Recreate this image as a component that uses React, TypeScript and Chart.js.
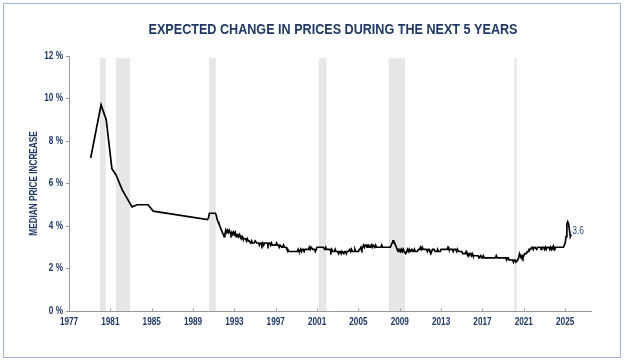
import React, { useEffect, useRef } from 'react';
import { Chart, registerables } from 'chart.js';

Chart.register(...registerables);

// ---------- DATA ----------
const chartTitle = 'EXPECTED CHANGE IN PRICES DURING THE NEXT 5 YEARS';
const yAxisTitle = 'MEDIAN PRICE INCREASE';
const xTickYears = [1977, 1981, 1985, 1989, 1993, 1997, 2001, 2005, 2009, 2013, 2017, 2021, 2025];
const yTickValues = [0, 2, 4, 6, 8, 10, 12];

// Sparse early survey readings (decimal year, %)
const earlyYears = [1979.1, 1980.1, 1980.6, 1981.15, 1981.55, 1982.15, 1983.1, 1983.6, 1984.65, 1985.15, 1990.4];
const earlyValues = [7.2, 9.7, 9.0, 6.7, 6.4, 5.7, 4.9, 5.0, 5.0, 4.7, 4.3];

// Monthly readings starting July 1990
const monthlyStartYear = 1990.5;
const values1990s = [
  4.4, 4.6, 4.6, 4.6, 4.6, 4.6,
  4.6, 4.6, 4.6, 4.5, 4.3, 4.2, 4.1, 4.0, 3.9, 3.8, 3.7, 3.6,
  3.5, 3.6, 3.8, 3.7, 3.8, 3.7, 3.8, 3.7, 3.6, 3.7, 3.6, 3.7,
  3.6, 3.7, 3.5, 3.6, 3.6, 3.5, 3.6, 3.5, 3.4, 3.5, 3.4, 3.4,
  3.4, 3.4, 3.3, 3.4, 3.3, 3.3, 3.3, 3.2, 3.3, 3.2, 3.2, 3.2,
  3.3, 3.3, 3.2, 3.2, 3.2, 3.1, 3.2, 3.2, 3.1, 3.2, 3.1, 3.2,
  3.2, 3.2, 3.2, 3.1, 3.2, 3.2, 3.1, 3.2, 3.1, 3.1, 3.1, 3.1,
  3.1, 3.2, 3.1, 3.1, 3.0, 3.1, 3.1, 3.0, 3.0, 3.1, 3.0, 3.0,
  3.0, 2.9, 2.9, 2.8, 2.8, 2.8, 2.8, 2.8, 2.8, 2.8, 2.8, 2.8,
  2.8, 2.8, 2.9, 2.8, 2.8, 2.9, 2.8, 2.9, 2.9, 2.8, 2.9, 2.9,
];
const values2000s = [
  2.9, 2.9, 2.9, 3.0, 2.9, 3.0, 3.0, 2.9, 2.9, 2.9, 2.8, 2.9,
  3.0, 3.0, 3.0, 3.0, 3.0, 3.0, 3.0, 3.0, 3.0, 2.9, 3.0, 2.9,
  2.9, 2.9, 2.9, 2.9, 2.8, 2.9, 2.8, 2.8, 2.8, 2.9, 2.8, 2.8,
  2.8, 2.7, 2.8, 2.8, 2.7, 2.8, 2.8, 2.7, 2.8, 2.8, 2.7, 2.8,
  2.8, 2.8, 2.9, 2.8, 2.9, 2.8, 2.8, 2.8, 2.9, 2.8, 2.8, 2.8,
  2.8, 2.9, 2.9, 3.0, 2.9, 3.0, 3.1, 3.0, 3.1, 3.1, 3.0, 3.1,
  3.1, 3.0, 3.0, 3.1, 3.0, 3.1, 3.1, 3.0, 3.1, 3.0, 3.0, 3.0,
  3.0, 3.0, 3.0, 3.1, 3.0, 3.0, 3.0, 3.0, 3.0, 3.0, 3.0, 3.0,
  3.0, 3.0, 3.1, 3.2, 3.3, 3.3, 3.2, 3.1, 3.0, 2.9, 2.8, 2.9,
  2.9, 2.8, 2.9, 2.8, 2.9, 2.8, 2.8, 2.7, 2.8, 2.9, 2.8, 2.9,
];
const values2010s = [
  2.8, 2.8, 2.9, 2.8, 2.8, 2.9, 2.8, 2.8, 2.8, 2.8, 2.9, 2.9,
  3.0, 2.9, 3.0, 2.9, 2.9, 2.9, 2.9, 2.9, 2.8, 2.9, 2.9, 2.8,
  2.7, 2.8, 2.9, 2.9, 2.9, 2.8, 2.8, 2.8, 2.9, 2.8, 2.8, 2.8,
  2.9, 2.9, 2.9, 2.9, 2.9, 2.9, 2.9, 2.9, 3.0, 2.9, 2.9, 2.9,
  2.9, 2.9, 2.8, 2.9, 2.9, 2.9, 2.8, 2.9, 2.8, 2.8, 2.8, 2.8,
  2.8, 2.7, 2.7, 2.7, 2.7, 2.8, 2.7, 2.7, 2.6, 2.7, 2.7, 2.6,
  2.7, 2.6, 2.6, 2.6, 2.6, 2.6, 2.6, 2.6, 2.5, 2.5, 2.6, 2.5,
  2.5, 2.6, 2.5, 2.5, 2.5, 2.5, 2.5, 2.5, 2.5, 2.5, 2.5, 2.5,
  2.5, 2.5, 2.5, 2.5, 2.6, 2.5, 2.5, 2.5, 2.5, 2.5, 2.5, 2.5,
  2.5, 2.5, 2.5, 2.5, 2.4, 2.5, 2.5, 2.4, 2.4, 2.4, 2.4, 2.4,
];
const values2020s = [
  2.3, 2.4, 2.4, 2.3, 2.3, 2.4, 2.5, 2.7, 2.6, 2.5, 2.6, 2.5,
  2.6, 2.7, 2.7, 2.7, 2.8, 2.8, 2.9, 2.9, 2.9, 3.0, 3.0, 2.9,
  3.0, 3.0, 3.0, 2.9, 3.0, 3.0, 3.0, 3.0, 2.9, 3.0, 3.0, 3.0,
  2.9, 3.0, 2.9, 3.0, 3.0, 3.0, 2.9, 3.0, 2.9, 3.0, 2.9, 3.0,
  2.9, 3.0, 3.0, 3.0, 3.0, 3.0, 3.0, 3.0, 3.0, 3.0, 3.0, 3.1,
  3.2, 3.5, 4.1, 4.2, 4.1, 3.8, 3.5, 3.6,
];

// Recession bands (decimal years)
const recessionStarts = [1980.0, 1981.54, 1990.55, 2001.17, 2007.92, 2020.08];
const recessionEnds = [1980.55, 1982.9, 1991.2, 2001.9, 2009.5, 2020.3];

// ---------- STYLE ----------
const NAVY = '#1f3864';
const FONT = "'Liberation Sans', Arial, sans-serif";

function condensedText(ctx: CanvasRenderingContext2D, text: string, x: number, y: number, sx: number) {
  ctx.save();
  ctx.translate(x, y);
  ctx.scale(sx, 1);
  ctx.fillText(text, 0, 0);
  ctx.restore();
}

export default function App() {
  const ref = useRef<HTMLCanvasElement | null>(null);

  useEffect(() => {
    const canvas = ref.current;
    if (!canvas) return;

    const monthly = [...values1990s, ...values2000s, ...values2010s, ...values2020s];
    const points: { x: number; y: number }[] = [];
    earlyYears.forEach((yr, i) => points.push({ x: yr, y: earlyValues[i] }));
    monthly.forEach((v, i) => points.push({ x: monthlyStartYear + i / 12, y: v }));
    const lastValue = monthly[monthly.length - 1];

    const decorPlugin = {
      id: 'decor',
      beforeDraw(chart: any) {
        const { ctx } = chart;
        ctx.save();
        ctx.fillStyle = '#ffffff';
        ctx.fillRect(0, 0, chart.width, chart.height);
        ctx.strokeStyle = '#9fb4d4';
        ctx.lineWidth = 1;
        ctx.strokeRect(3.5, 3.5, 617, 354);
        // title
        ctx.fillStyle = NAVY;
        ctx.font = `bold 14px ${FONT}`;
        ctx.textAlign = 'center';
        ctx.textBaseline = 'middle';
        condensedText(ctx, chartTitle, 333, 30, 0.9);
        // y axis title
        const ca = chart.chartArea;
        ctx.translate(34, (ca.top + ca.bottom) / 2);
        ctx.rotate(-Math.PI / 2);
        ctx.font = `bold 10px ${FONT}`;
        condensedText(ctx, yAxisTitle, 0, 0, 0.82);
        ctx.restore();
      },
      beforeDatasetsDraw(chart: any) {
        const { ctx, scales } = chart;
        const xs = scales.x;
        const ys = scales.y;
        ctx.save();
        ctx.fillStyle = '#e6e6e6';
        const top = ys.getPixelForValue(11.9);
        const bottom = ys.getPixelForValue(0);
        recessionStarts.forEach((s, i) => {
          const x1 = xs.getPixelForValue(s);
          const x2 = xs.getPixelForValue(recessionEnds[i]);
          ctx.fillRect(x1, top, x2 - x1, bottom - top);
        });
        ctx.restore();
      },
      afterDraw(chart: any) {
        const { ctx, scales } = chart;
        const xs = scales.x;
        const ys = scales.y;
        ctx.save();
        // upward x ticks
        ctx.strokeStyle = '#999999';
        ctx.lineWidth = 1;
        const y0 = Math.round(ys.getPixelForValue(0)) + 0.5;
        xTickYears.forEach((yr) => {
          const x = Math.round(xs.getPixelForValue(yr)) + 0.5;
          ctx.beginPath();
          ctx.moveTo(x, y0);
          ctx.lineTo(x, y0 - 3);
          ctx.stroke();
        });
        // tick labels
        ctx.fillStyle = NAVY;
        ctx.font = `bold 10px ${FONT}`;
        ctx.textBaseline = 'middle';
        ctx.textAlign = 'center';
        xTickYears.forEach((yr) => {
          condensedText(ctx, String(yr), xs.getPixelForValue(yr), y0 + 11, 0.82);
        });
        ctx.textAlign = 'right';
        yTickValues.forEach((v) => {
          condensedText(ctx, `${v} %`, xs.left - 6, ys.getPixelForValue(v), 0.82);
        });
        // last value label
        const meta = chart.getDatasetMeta(0);
        const last = meta.data[meta.data.length - 1];
        ctx.fillStyle = '#2b4a8a';
        ctx.font = `10px ${FONT}`;
        ctx.textAlign = 'left';
        condensedText(ctx, String(lastValue), last.x + 1, last.y - 3, 0.85);
        ctx.restore();
      },
    };

    const chart = new Chart(canvas, {
      type: 'line',
      data: {
        datasets: [
          {
            data: points,
            borderColor: '#000000',
            borderWidth: 1.7,
            pointRadius: 0,
            tension: 0,
            fill: false,
          },
        ],
      },
      options: {
        responsive: false,
        animation: false,
        parsing: false as any,
        layout: { padding: { left: 0, right: 35, top: 56, bottom: 0 } },
        plugins: {
          legend: { display: false },
          title: { display: false },
          tooltip: { enabled: false },
        },
        scales: {
          x: {
            type: 'linear',
            min: 1977,
            max: 2027.5,
            afterFit: (s: any) => {
              s.height = 51;
            },
            afterBuildTicks: (s: any) => {
              s.ticks = xTickYears.map((v) => ({ value: v }));
            },
            grid: { display: false, drawOnChartArea: false, drawTicks: false },
            border: { display: true, color: '#999999', width: 1 },
            ticks: { display: false },
          },
          y: {
            min: 0,
            max: 12,
            afterFit: (s: any) => {
              s.width = 69;
            },
            afterBuildTicks: (s: any) => {
              s.ticks = yTickValues.map((v) => ({ value: v }));
            },
            grid: { drawOnChartArea: false, drawTicks: true, tickLength: 3, color: '#999999' },
            border: { display: true, color: '#999999', width: 1 },
            ticks: { display: false },
          },
        },
      },
      plugins: [decorPlugin],
    });

    return () => chart.destroy();
  }, []);

  return (
    <div style={{ position: 'absolute', left: 0, top: 0, width: 626, height: 362, background: '#fff' }}>
      <canvas ref={ref} width={626} height={362} style={{ display: 'block' }} />
    </div>
  );
}
